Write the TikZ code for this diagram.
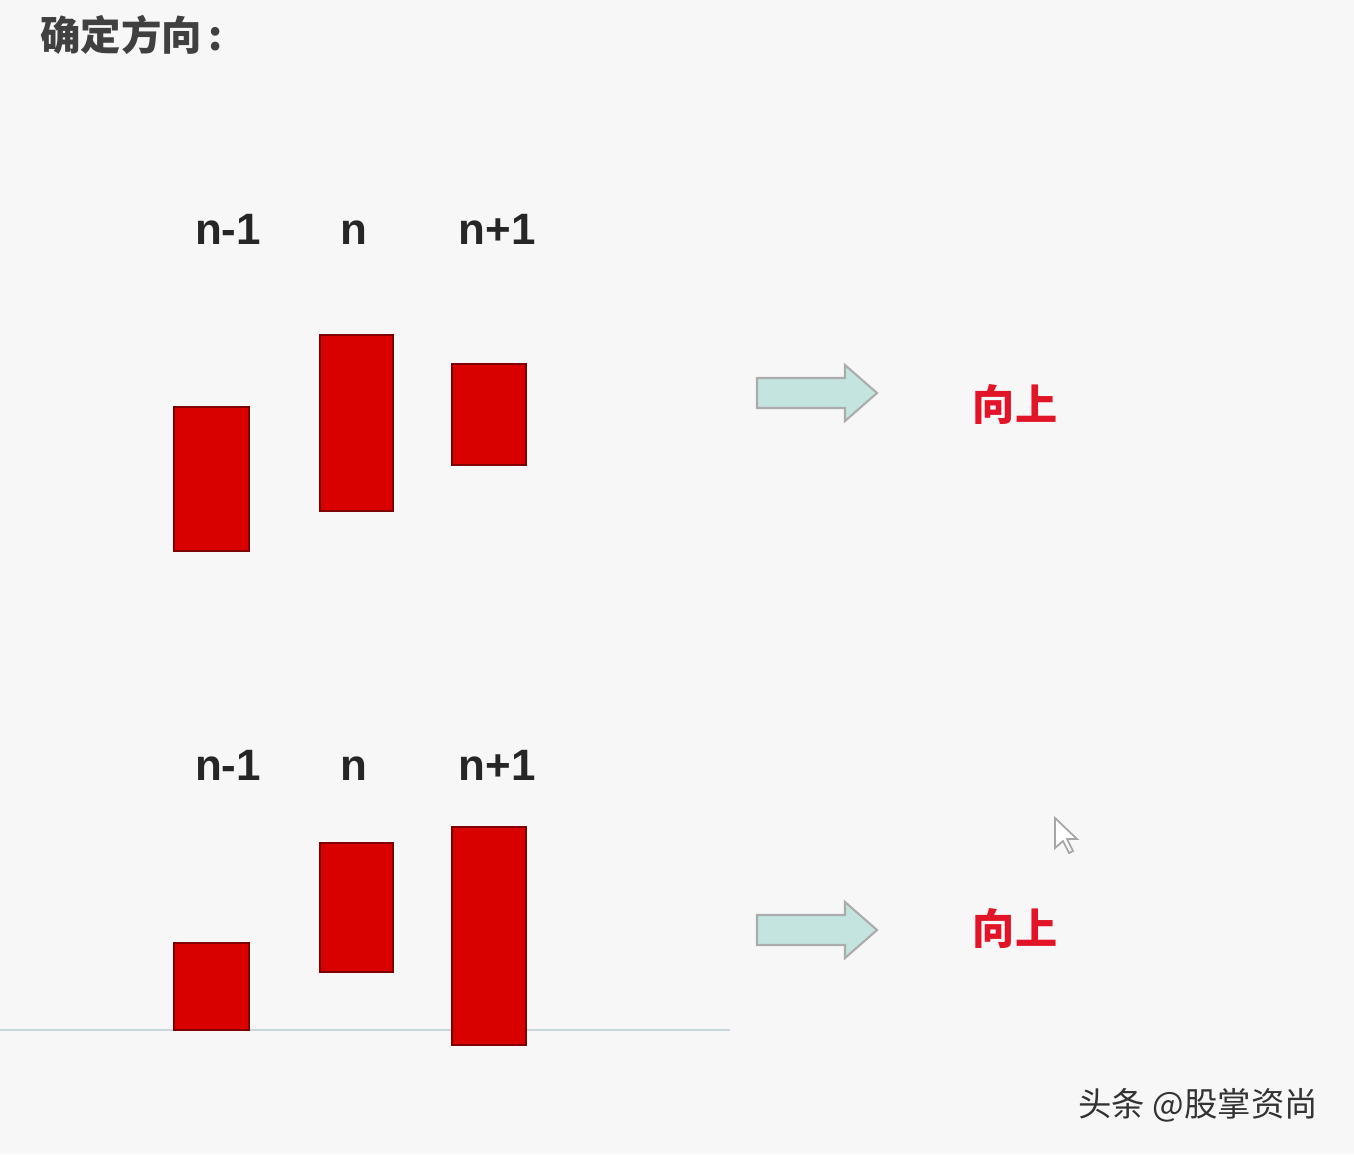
\documentclass[tikz,border=0pt]{standalone}
\usepackage{fontspec}
\setmainfont{Liberation Sans}
\newfontfamily\cjk{Noto Sans CJK SC}
\definecolor{arrfill}{RGB}{196,228,224}
\definecolor{upred}{RGB}{225,20,40}
\begin{document}
\begin{tikzpicture}[x=0.02cm,y=-0.02cm,
 bar/.style={fill=red!85!black,draw=red!50!black,line width=0.8pt},
 lbl/.style={font=\fontsize{25}{25}\selectfont\bfseries,text=black!85,anchor=base},
 up/.style={font=\cjk\fontsize{24}{24}\selectfont\bfseries,text=upred},
 arr/.style={fill=arrfill,draw=gray!65,line width=1.2pt}]
\fill[black!3] (0,0) rectangle (1354,1154);
\useasboundingbox (0,0) rectangle (1354,1154);
\node[font=\cjk\fontsize{23}{23}\selectfont\bfseries,text=black!75,anchor=west] (title) at (34,35) {确定方向\,:};
% top
\node[lbl] (a1) at (228,244) {n-1};
\node[lbl] (a2) at (354,244) {n};
\node[lbl] (a3) at (497,244) {n+1};
\draw[bar] (174,407) rectangle (249,551);
\draw[bar] (320,335) rectangle (393,511);
\draw[bar] (452,364) rectangle (526,465);
\draw[arr] (757,378) -- (845,378) -- (845,365) -- (877,393) -- (845,421) -- (845,408) -- (757,408) -- cycle;
\node[up] (u1) at (1015,405) {向上};
% bottom
\draw[cyan!25!gray!40,line width=1.5pt] (0,1030) -- (730,1030);
\node[lbl] (b1) at (228,780) {n-1};
\node[lbl] (b2) at (354,780) {n};
\node[lbl] (b3) at (497,780) {n+1};
\draw[bar] (174,943) rectangle (249,1030);
\draw[bar] (320,843) rectangle (393,972);
\draw[bar] (452,827) rectangle (526,1045);
\draw[arr] (757,915) -- (845,915) -- (845,902) -- (877,930) -- (845,958) -- (845,945) -- (757,945) -- cycle;
\node[up] (u2) at (1015,928) {向上};
\draw[gray!70,fill=white,line width=1pt] (1055,818) -- (1055,848) -- (1063,841) -- (1069,853) -- (1073,851) -- (1067,839) -- (1077,839) -- cycle;
\node[font=\cjk\fontsize{19}{19}\selectfont,text=black!80,anchor=east] (wm) at (1324,1105) {头条 @股掌资尚};
\end{tikzpicture}
\end{document}
